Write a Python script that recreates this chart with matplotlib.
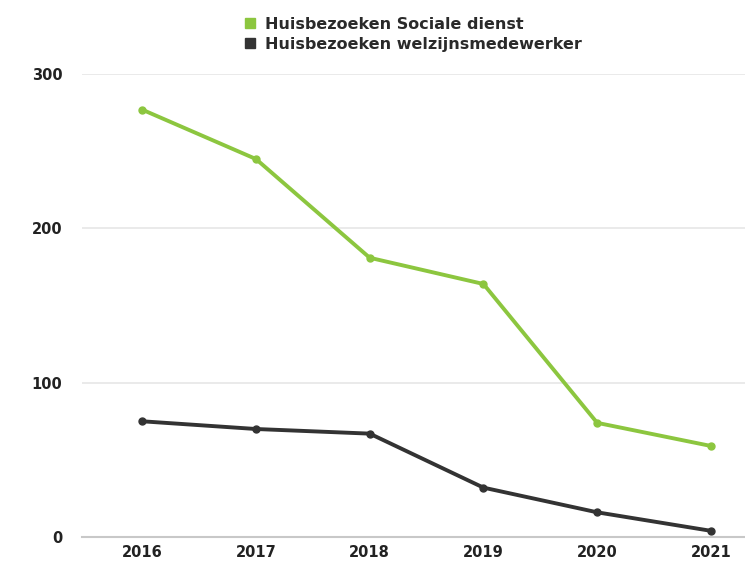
import matplotlib.pyplot as plt
from matplotlib.lines import Line2D

plt.rcParams['font.family'] = ['DejaVu Sans']

years = [2016, 2017, 2018, 2019, 2020, 2021]
sociale_dienst = [277, 245, 181, 164, 74, 59]
welzijn = [75, 70, 67, 32, 16, 4]
labels = ["Huisbezoeken Sociale dienst", "Huisbezoeken welzijnsmedewerker"]

green = "#8cc63f"
dark = "#333333"

fig = plt.figure(figsize=(7.45, 5.62), dpi=100)
ax = fig.add_axes([0.11, 0.0445, 0.89, 0.8235])

ax.plot(years, sociale_dienst, color=green, lw=2.8, marker="o", ms=5)
ax.plot(years, welzijn, color=dark, lw=2.8, marker="o", ms=5)

ax.set_xlim(2015.47, 2021.3)
ax.set_ylim(0, 300)
ax.set_yticks([0, 100, 200, 300])
ax.set_xticks(years)
ax.grid(axis="y", color="#e6e6e6", lw=1.2)
ax.set_axisbelow(True)
for s in ["top", "right", "left"]:
    ax.spines[s].set_visible(False)
ax.spines["bottom"].set_color("#c8c8c8")
ax.spines["bottom"].set_linewidth(1.5)
ax.tick_params(length=0, labelsize=10.5, colors="#222222")
ax.tick_params(axis="y", pad=14)
ax.tick_params(axis="x", pad=6)
for t in ax.get_xticklabels() + ax.get_yticklabels():
    t.set_fontweight("bold")

handles = [Line2D([], [], ls="none", marker="s", ms=7, color=c) for c in (green, dark)]
leg = fig.legend(handles, labels, loc="upper left", bbox_to_anchor=(0.31, 0.99),
                 frameon=False, prop={"weight": "bold", "size": 11.5},
                 handletextpad=0.45, labelspacing=0.3, borderpad=0.2, handlelength=1)
for t in leg.get_texts():
    t.set_color("#2a2a2a")

fig.savefig("out.png", dpi=100)
